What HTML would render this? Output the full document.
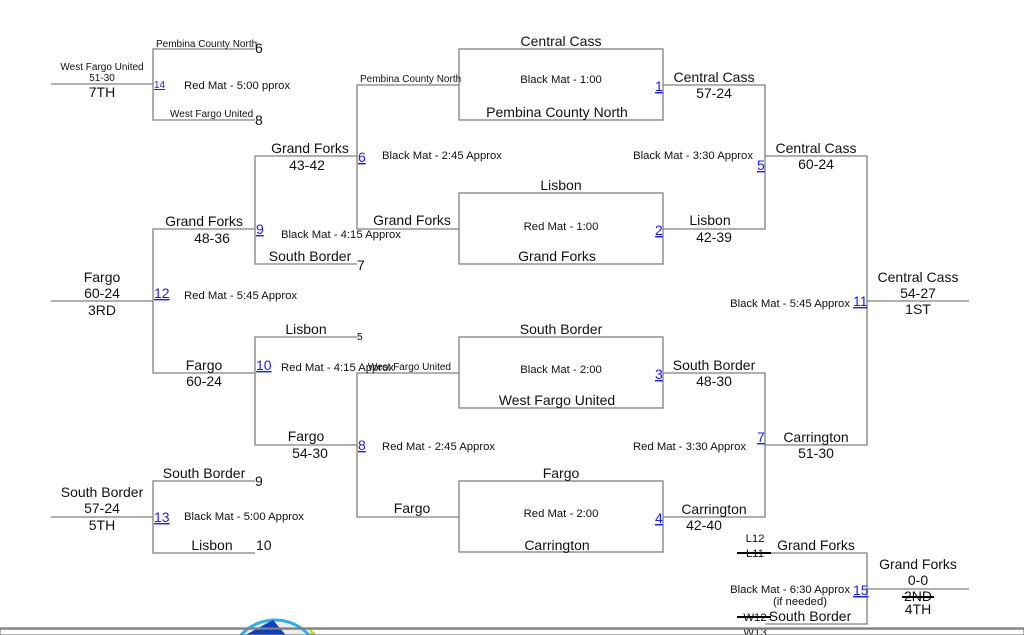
<!DOCTYPE html>
<html><head><style>
html,body{margin:0;padding:0;background:#fff;width:1024px;height:635px;overflow:hidden}
svg{display:block;overflow:hidden}
text{font-family:"Liberation Sans",Arial,sans-serif;fill:#111}
.s{font-size:10px}.m{font-size:11.3px}.l{font-size:14px}
.b{fill:#1a1aff;text-decoration:underline}
line,rect,path.w{stroke:#808080;stroke-width:1.3;fill:none}
</style></head><body>
<svg width="1024" height="635" viewBox="0 0 1024 635">
<g>
<line x1="51" y1="84" x2="153" y2="84"/>
<path class="w" d="M255 49H153V120H255"/>
<path class="w" d="M357 156H255V264H357"/>
<path class="w" d="M459 85H357V229H459"/>
<path class="w" d="M255 229H153V373H255"/>
<line x1="51" y1="301" x2="153" y2="301"/>
<path class="w" d="M357 337H255V445H357"/>
<path class="w" d="M459 373H357V517H459"/>
<path class="w" d="M255 481H153V553H255"/>
<line x1="51" y1="517" x2="153" y2="517"/>
<rect x="459" y="49" width="204" height="71"/>
<rect x="459" y="193" width="204" height="71"/>
<rect x="459" y="337" width="204" height="71"/>
<rect x="459" y="481" width="204" height="71"/>
<path class="w" d="M663 85H765V229H663"/>
<path class="w" d="M663 373H765V517H663"/>
<path class="w" d="M765 156H867V445H765"/>
<line x1="867" y1="301" x2="969" y2="301"/>
<path class="w" d="M765 553H867V624H765"/>
<line x1="867" y1="589" x2="969" y2="589"/>
</g>
<text class="s" x="102" y="70" text-anchor="middle">West Fargo United</text>
<text class="s" x="102" y="81" text-anchor="middle">51-30</text>
<text class="l" x="102" y="97" text-anchor="middle">7TH</text>
<text class="s" x="156" y="47">Pembina County North</text>
<text class="l" x="255" y="53">6</text>
<text class="s b" x="154" y="88">14</text>
<text class="m" x="184" y="89">Red Mat - 5:00 pprox</text>
<text class="s" x="170" y="117">West Fargo United</text>
<text class="l" x="255" y="125">8</text>

<text class="l" x="310" y="153" text-anchor="middle">Grand Forks</text>
<text class="l" x="307" y="170" text-anchor="middle">43-42</text>
<text class="l" x="310" y="261" text-anchor="middle">South Border</text>
<text class="l" x="357" y="270">7</text>
<text class="s" x="360" y="82">Pembina County North</text>
<text class="l" x="412" y="225" text-anchor="middle">Grand Forks</text>
<text class="l b" x="358" y="162">6</text>
<text class="m" x="382" y="159">Black Mat - 2:45 Approx</text>

<text class="l" x="204" y="226" text-anchor="middle">Grand Forks</text>
<text class="l" x="212" y="243" text-anchor="middle">48-36</text>
<text class="l b" x="256" y="234">9</text>
<text class="m" x="281" y="238">Black Mat - 4:15 Approx</text>
<text class="l" x="102" y="282" text-anchor="middle">Fargo</text>
<text class="l" x="102" y="298" text-anchor="middle">60-24</text>
<text class="l" x="102" y="315" text-anchor="middle">3RD</text>
<text class="l b" x="154" y="298">12</text>
<text class="m" x="184" y="299">Red Mat - 5:45 Approx</text>
<text class="l" x="204" y="370" text-anchor="middle">Fargo</text>
<text class="l" x="204" y="386" text-anchor="middle">60-24</text>

<text class="l" x="306" y="334" text-anchor="middle">Lisbon</text>
<text class="s" x="357" y="340">5</text>
<text class="l b" x="256" y="370">10</text>
<text class="m" x="281" y="371">Red Mat - 4:15 Approx</text>
<text class="s" x="451" y="370" text-anchor="end">West Fargo United</text>
<text class="l" x="306" y="441" text-anchor="middle">Fargo</text>
<text class="l" x="310" y="458" text-anchor="middle">54-30</text>
<text class="l b" x="358" y="450">8</text>
<text class="m" x="382" y="450">Red Mat - 2:45 Approx</text>
<text class="l" x="412" y="513" text-anchor="middle">Fargo</text>

<text class="l" x="204" y="478" text-anchor="middle">South Border</text>
<text class="l" x="255" y="486">9</text>
<text class="l" x="102" y="497" text-anchor="middle">South Border</text>
<text class="l" x="102" y="513" text-anchor="middle">57-24</text>
<text class="l" x="102" y="530" text-anchor="middle">5TH</text>
<text class="l b" x="154" y="522">13</text>
<text class="m" x="184" y="520">Black Mat - 5:00 Approx</text>
<text class="l" x="212" y="550" text-anchor="middle">Lisbon</text>
<text class="l" x="256" y="550">10</text>

<text class="l" x="561" y="46" text-anchor="middle">Central Cass</text>
<text class="m" x="561" y="83" text-anchor="middle">Black Mat - 1:00</text>
<text class="l" x="557" y="117" text-anchor="middle">Pembina County North</text>
<text class="l" x="561" y="190" text-anchor="middle">Lisbon</text>
<text class="m" x="561" y="230" text-anchor="middle">Red Mat - 1:00</text>
<text class="l" x="557" y="261" text-anchor="middle">Grand Forks</text>
<text class="l" x="561" y="334" text-anchor="middle">South Border</text>
<text class="m" x="561" y="373" text-anchor="middle">Black Mat - 2:00</text>
<text class="l" x="557" y="405" text-anchor="middle">West Fargo United</text>
<text class="l" x="561" y="478" text-anchor="middle">Fargo</text>
<text class="m" x="561" y="517" text-anchor="middle">Red Mat - 2:00</text>
<text class="l" x="557" y="550" text-anchor="middle">Carrington</text>
<text class="l b" x="655" y="91">1</text>
<text class="l b" x="655" y="235">2</text>
<text class="l b" x="655" y="379">3</text>
<text class="l b" x="655" y="523">4</text>

<text class="l" x="714" y="82" text-anchor="middle">Central Cass</text>
<text class="l" x="714" y="98" text-anchor="middle">57-24</text>
<text class="l" x="710" y="225" text-anchor="middle">Lisbon</text>
<text class="l" x="714" y="242" text-anchor="middle">42-39</text>
<text class="l" x="714" y="370" text-anchor="middle">South Border</text>
<text class="l" x="714" y="386" text-anchor="middle">48-30</text>
<text class="l" x="714" y="514" text-anchor="middle">Carrington</text>
<text class="l" x="704" y="530" text-anchor="middle">42-40</text>
<text class="m" x="753" y="159" text-anchor="end">Black Mat - 3:30 Approx</text>
<text class="l b" x="757" y="170">5</text>
<text class="l" x="816" y="153" text-anchor="middle">Central Cass</text>
<text class="l" x="816" y="169" text-anchor="middle">60-24</text>
<text class="m" x="746" y="450" text-anchor="end">Red Mat - 3:30 Approx</text>
<text class="l b" x="757" y="442">7</text>
<text class="l" x="816" y="442" text-anchor="middle">Carrington</text>
<text class="l" x="816" y="458" text-anchor="middle">51-30</text>
<text class="m" x="850" y="307" text-anchor="end">Black Mat - 5:45 Approx</text>
<text class="l b" x="853" y="306">11</text>
<text class="l" x="918" y="282" text-anchor="middle">Central Cass</text>
<text class="l" x="918" y="298" text-anchor="middle">54-27</text>
<text class="l" x="918" y="314" text-anchor="middle">1ST</text>

<text class="m" x="755" y="542" text-anchor="middle">L12</text>
<text class="m" x="755" y="557" text-anchor="middle">L11</text>
<line x1="737" y1="553" x2="771" y2="553" style="stroke:#000;stroke-width:2"/>
<text class="l" x="816" y="550" text-anchor="middle">Grand Forks</text>
<text class="m" x="850" y="593" text-anchor="end">Black Mat - 6:30 Approx</text>
<text class="m" x="800" y="605" text-anchor="middle">(if needed)</text>
<text class="l b" x="853" y="595">15</text>
<text class="l" x="810" y="621" text-anchor="middle">South Border</text>
<text class="m" x="755" y="621" text-anchor="middle">W12</text>
<line x1="737" y1="617" x2="771" y2="617" style="stroke:#000;stroke-width:2"/>
<text class="m" x="755" y="636" text-anchor="middle">W13</text>
<text class="l" x="918" y="569" text-anchor="middle">Grand Forks</text>
<text class="l" x="918" y="585" text-anchor="middle">0-0</text>
<text class="l" x="918" y="601" text-anchor="middle">2ND</text>
<line x1="902" y1="597" x2="934" y2="597" style="stroke:#000;stroke-width:2"/>
<text class="l" x="918" y="614" text-anchor="middle">4TH</text>

<circle cx="275" cy="666" r="46" fill="#eee" stroke="#2ab0e8" stroke-width="3"/>
<path d="M236 640 L273 620 L290 640 L280 666 L230 666 Z" fill="#0a3fbf"/>
<path d="M308 626 L322 640 L316 650 Z" fill="#c5d82a"/>
<rect x="0" y="629" width="1024" height="6" fill="#ececec"/>
<rect x="0" y="628" width="1024" height="1" fill="#e0e0e0"/>
</svg>
</body></html>
